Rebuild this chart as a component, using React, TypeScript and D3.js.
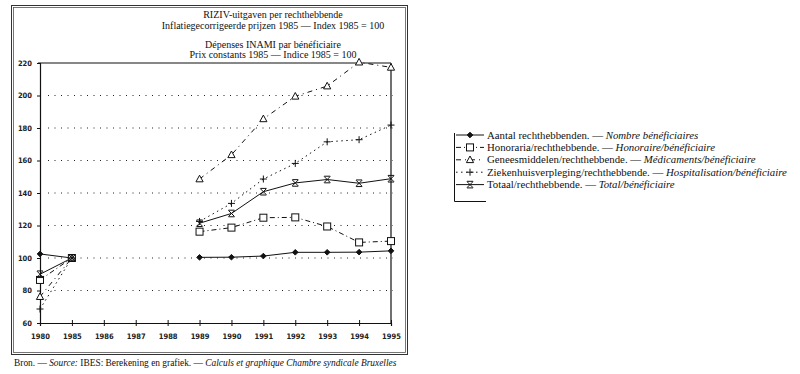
import React, { useEffect, useRef } from 'react';
import * as d3 from 'd3';

const years = ['1980', '1985', '1986', '1987', '1988', '1989', '1990', '1991', '1992', '1993', '1994', '1995'];
const yTicks = [60, 80, 100, 120, 140, 160, 180, 200, 220];
const gridValues = [80, 100, 120, 140, 160, 180, 200];

// null = geen gegevens (1986-1988)
const aantal = [102.5, 100, null, null, null, 100.4, 100.5, 101.2, 103.5, 103.5, 103.6, 104.4];
const honoraria = [86.5, 100, null, null, null, 116.2, 118.7, 124.8, 125, 119.4, 109.6, 110.4];
const geneesmiddelen = [76.2, 100, null, null, null, 148.6, 163.5, 185.6, 199.5, 205.8, 220.5, 217.3];
const ziekenhuis = [68.6, 100, null, null, null, 122.5, 133.6, 148.6, 158.2, 171.5, 172.8, 181.8];
const totaal = [90, 100, null, null, null, 121.4, 127.4, 140.8, 146.2, 148.3, 146, 148.8];

const series = [
  { nl: 'Aantal rechthebbenden. — ', fr: 'Nombre bénéficiaires', values: aantal, dash: null, marker: 'diamond' },
  { nl: 'Honoraria/rechthebbende. — ', fr: 'Honoraire/bénéficiaire', values: honoraria, dash: '5,3,1,3', marker: 'square' },
  { nl: 'Geneesmiddelen/rechthebbende. — ', fr: 'Médicaments/bénéficiaire', values: geneesmiddelen, dash: '5,4,1,4', marker: 'triangle' },
  { nl: 'Ziekenhuisverpleging/rechthebbende. — ', fr: 'Hospitalisation/bénéficiaire', values: ziekenhuis, dash: '1.5,3.5', marker: 'plus' },
  { nl: 'Totaal/rechthebbende. — ', fr: 'Total/bénéficiaire', values: totaal, dash: null, marker: 'x' },
];

const serif = '"Liberation Serif", "DejaVu Serif", serif';
const narrow = '"Liberation Sans Narrow", "DejaVu Sans Condensed", "DejaVu Sans", sans-serif';

function drawMarker(g, type, x, y) {
  const m = g.append('g').attr('transform', `translate(${x},${y})`)
    .attr('stroke', '#111').attr('stroke-width', 1);
  if (type === 'diamond') {
    m.append('path').attr('d', 'M0,-2.8L2.8,0L0,2.8L-2.8,0Z').attr('fill', '#111');
  } else if (type === 'square') {
    m.append('rect').attr('x', -3.5).attr('y', -3.5).attr('width', 7).attr('height', 7).attr('fill', 'white');
  } else if (type === 'triangle') {
    m.append('path').attr('d', 'M0,-3.8L3.6,2.8L-3.6,2.8Z').attr('fill', 'white');
  } else if (type === 'plus') {
    m.append('path').attr('d', 'M-3.5,0H3.5M0,-3.5V3.5').attr('fill', 'none');
  } else {
    m.append('path').attr('d', 'M-3,-3L3,3M3,-3L-3,3M-3,-3.3H3M-3,3.3H3').attr('fill', 'none');
  }
}

const App = () => {
  const svgRef = useRef();

  useEffect(() => {
    const svg = d3.select(svgRef.current);
    svg.selectAll('*').remove();

    const x = d3.scalePoint().domain(years).range([40, 391]);
    const y = d3.scaleLinear().domain([60, 220]).range([323, 63]);

    // kader
    svg.append('rect').attr('x', 11.5).attr('y', 5.5).attr('width', 396).attr('height', 349)
      .attr('fill', 'none').attr('stroke', '#333').attr('stroke-width', 1);
    svg.append('rect').attr('x', 13.5).attr('y', 7.5).attr('width', 392).attr('height', 345)
      .attr('fill', 'none').attr('stroke', '#555').attr('stroke-width', 0.8);

    // titels
    const titles = [
      ['RIZIV-uitgaven per rechthebbende', 18],
      ['Inflatiegecorrigeerde prijzen 1985 — Index 1985 = 100', 28.5],
      ['Dépenses INAMI par bénéficiaire', 47.5],
      ['Prix constants 1985 — Indice 1985 = 100', 58],
    ];
    titles.forEach(([t, ty]) => {
      svg.append('text').attr('x', 273).attr('y', ty).attr('text-anchor', 'middle')
        .style('font-family', serif).style('font-size', '10px').attr('fill', '#111').text(t);
    });

    // rasterlijnen
    svg.append('g').selectAll('line').data(gridValues).enter().append('line')
      .attr('x1', 48).attr('x2', 393)
      .attr('y1', d => y(d)).attr('y2', d => y(d))
      .attr('stroke', '#222').attr('stroke-width', 1).attr('stroke-dasharray', '1,5.5');

    // kader van de grafiek (boven en rechts)
    svg.append('line').attr('x1', 38).attr('x2', 391).attr('y1', y(220)).attr('y2', y(220))
      .attr('stroke', '#111').attr('stroke-width', 1.2);
    svg.append('line').attr('x1', 391).attr('x2', 391).attr('y1', y(220)).attr('y2', y(60))
      .attr('stroke', '#111').attr('stroke-width', 1.2);

    // Y-as
    const yAxis = svg.append('g').attr('transform', 'translate(40,0)')
      .call(d3.axisLeft(y).tickValues(yTicks).tickSize(3).tickPadding(5));
    yAxis.select('.domain').attr('stroke', '#111').attr('stroke-width', 1.2);
    yAxis.selectAll('line').attr('stroke', '#111');
    yAxis.selectAll('text').style('font-family', narrow).style('font-size', '7.5px')
      .style('font-weight', 'bold').attr('fill', '#222');

    // X-as
    const xAxis = svg.append('g').attr('transform', `translate(0,${y(60)})`)
      .call(d3.axisBottom(x).tickSize(3).tickPadding(8));
    xAxis.select('.domain').attr('stroke', '#111').attr('stroke-width', 1.2);
    xAxis.selectAll('line').attr('y1', -3).attr('stroke', '#111');
    xAxis.selectAll('text').style('font-family', narrow).style('font-size', '7.5px')
      .style('font-weight', 'bold').attr('fill', '#222');

    // lijnen
    series.forEach(s => {
      const line = d3.line()
        .defined(d => d != null)
        .x((d, i) => x(years[i]))
        .y(d => y(d));
      svg.append('path').datum(s.values).attr('d', line)
        .attr('fill', 'none').attr('stroke', '#111').attr('stroke-width', 1)
        .attr('stroke-dasharray', s.dash);
    });
    series.forEach(s => {
      const mg = svg.append('g');
      s.values.forEach((v, i) => {
        if (v != null) drawMarker(mg, s.marker, x(years[i]), y(v));
      });
    });

    // legende
    const lg = svg.append('g');
    lg.append('line').attr('x1', 454.5).attr('x2', 454.5).attr('y1', 133).attr('y2', 201.5)
      .attr('stroke', '#111').attr('stroke-width', 1);
    lg.append('line').attr('x1', 454.5).attr('x2', 486).attr('y1', 201.5).attr('y2', 201.5)
      .attr('stroke', '#111').attr('stroke-width', 1);
    series.forEach((s, i) => {
      const ly = 135 + i * 12.4;
      lg.append('line').attr('x1', 456).attr('x2', 484).attr('y1', ly).attr('y2', ly)
        .attr('stroke', '#111').attr('stroke-width', 1).attr('stroke-dasharray', s.dash);
      drawMarker(lg, s.marker, 470, ly);
      const t = lg.append('text').attr('x', 487).attr('y', ly + 3.6)
        .style('font-family', serif).style('font-size', '10.8px').attr('fill', '#111');
      t.append('tspan').text(s.nl);
      t.append('tspan').style('font-style', 'italic').text(s.fr);
    });

    // bron
    const src = svg.append('text').attr('x', 14).attr('y', 366)
      .style('font-family', serif).style('font-size', '9.4px').attr('fill', '#111');
    src.append('tspan').text('Bron. — ');
    src.append('tspan').style('font-style', 'italic').text('Source:');
    src.append('tspan').text(' IBES: Berekening en grafiek. — ');
    src.append('tspan').style('font-style', 'italic').text('Calculs et graphique Chambre syndicale Bruxelles');
  }, []);

  return (
    <svg ref={svgRef} width={800} height={374}
      style={{ position: 'absolute', left: 0, top: 0, background: 'white', display: 'block' }} />
  );
};

export default App;
